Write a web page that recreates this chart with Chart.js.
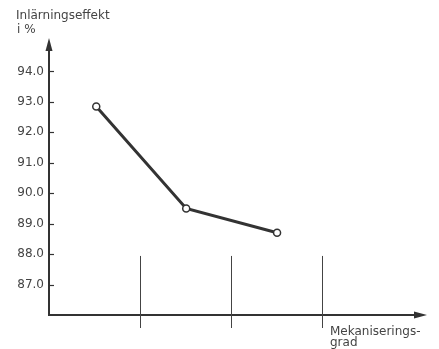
<!DOCTYPE html>
<html lang="sv">
<head>
<meta charset="UTF-8">
<title>Inlärningseffekt och mekaniseringsgrad</title>
<script src="https://cdn.jsdelivr.net/npm/chart.js"></script>
<style>
  html, body { margin: 0; padding: 0; background: #fff; }
  canvas { display: block; }
</style>
</head>
<body>
<canvas id="chart" width="439" height="349"></canvas>
<script>
// Mechanisation levels (between the dividers) and learning effect in %
const levels = [0.52, 1.51, 2.51];
const effect = [92.85, 89.5, 88.7];

// Y tick values shown on the axis
const yTicks = [87, 88, 89, 90, 91, 92, 93, 94];

// Vertical dividers between mechanisation groups
const dividers = [1, 2, 3];

const yTitle = ['Inlärningseffekt', 'i %'];
const xTitle = ['Mekaniserings-', 'grad'];

const ink = '#333';
const textInk = '#444';
const font = '"DejaVu Sans", sans-serif';

// Draws arrowed axes, tick marks, dividers and the axis captions
const axesPlugin = {
    id: 'axesPlugin',
    beforeDatasetsDraw(chart) {
        const { ctx, scales } = chart;
        const x = scales.x, y = scales.y;
        const x0 = x.getPixelForValue(0);
        const y0 = y.getPixelForValue(86);
        const xEnd = x.getPixelForValue(x.max);
        const yEnd = y.getPixelForValue(y.max);

        ctx.save();
        ctx.strokeStyle = ink;
        ctx.fillStyle = ink;
        ctx.lineWidth = 2;

        // y axis with arrow
        ctx.beginPath();
        ctx.moveTo(x0, y0 + 1);
        ctx.lineTo(x0, yEnd + 8);
        ctx.stroke();
        ctx.beginPath();
        ctx.moveTo(x0, yEnd);
        ctx.lineTo(x0 - 3.5, yEnd + 13);
        ctx.lineTo(x0 + 3.5, yEnd + 13);
        ctx.closePath();
        ctx.fill();

        // x axis with arrow
        ctx.beginPath();
        ctx.moveTo(x0 - 1, y0);
        ctx.lineTo(xEnd - 8, y0);
        ctx.stroke();
        ctx.beginPath();
        ctx.moveTo(xEnd, y0);
        ctx.lineTo(xEnd - 13, y0 - 3.5);
        ctx.lineTo(xEnd - 13, y0 + 3.5);
        ctx.closePath();
        ctx.fill();

        // tick marks on the inside of the y axis
        ctx.lineWidth = 1.2;
        yTicks.forEach(v => {
            const py = Math.round(y.getPixelForValue(v)) + 0.5;
            ctx.beginPath();
            ctx.moveTo(x0, py);
            ctx.lineTo(x0 + 5, py);
            ctx.stroke();
        });

        // dividers crossing the x axis
        ctx.strokeStyle = '#444';
        ctx.lineWidth = 1;
        dividers.forEach(v => {
            const px = Math.round(x.getPixelForValue(v)) + 0.5;
            ctx.beginPath();
            ctx.moveTo(px, y.getPixelForValue(87.94));
            ctx.lineTo(px, y0 + 13);
            ctx.stroke();
        });

        // captions
        ctx.fillStyle = textInk;
        ctx.font = '12px ' + font;
        ctx.textBaseline = 'alphabetic';
        ctx.textAlign = 'left';
        ctx.fillText(yTitle[0], 16, 19);
        ctx.fillText(yTitle[1], 17, 33);
        ctx.fillText(xTitle[0], 330, 335);
        ctx.fillText(xTitle[1], 330, 346);
        ctx.restore();
    }
};

new Chart(document.getElementById('chart'), {
    type: 'line',
    data: {
        datasets: [{
            data: levels.map((lv, i) => ({ x: lv, y: effect[i] })),
            borderColor: ink,
            borderWidth: 3,
            pointRadius: 3.5,
            pointBackgroundColor: '#fff',
            pointBorderColor: ink,
            pointBorderWidth: 1.5,
            tension: 0
        }]
    },
    options: {
        responsive: false,
        animation: false,
        events: [],
        layout: { padding: { top: 38, right: 12, left: 0, bottom: 0 } },
        plugins: {
            legend: { display: false },
            tooltip: { enabled: false }
        },
        scales: {
            x: {
                type: 'linear',
                min: 0,
                max: 4.16,
                grid: { display: false, drawTicks: false },
                border: { display: false },
                ticks: { display: false },
                afterFit(scale) { scale.height = 34; }
            },
            y: {
                type: 'linear',
                min: 86,
                max: 95.1,
                grid: { display: false, drawTicks: false },
                border: { display: false },
                afterBuildTicks(scale) { scale.ticks = yTicks.map(v => ({ value: v })); },
                ticks: {
                    padding: 5,
                    color: textInk,
                    font: { family: font, size: 12 },
                    callback: v => v.toFixed(1)
                },
                afterFit(scale) { scale.width = 49; }
            }
        }
    },
    plugins: [axesPlugin]
});
</script>
</body>
</html>
